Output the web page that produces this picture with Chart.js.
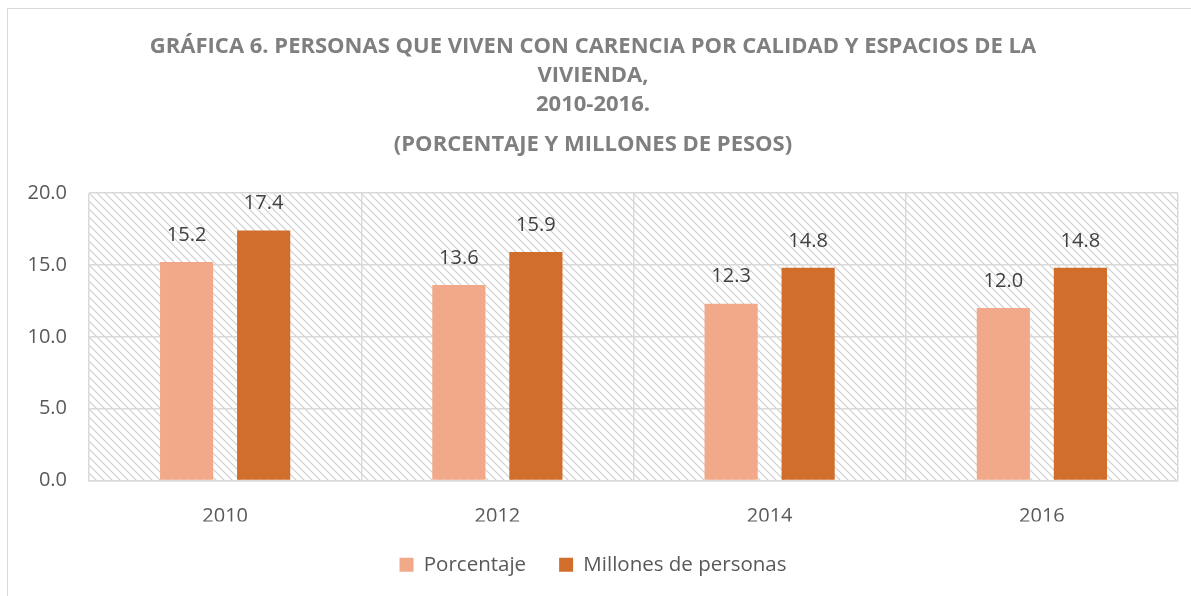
<!DOCTYPE html>
<html>
<head>
<meta charset="utf-8">
<script src="https://cdn.jsdelivr.net/npm/chart.js@4.4.0/dist/chart.umd.min.js"></script>
<style>
  html, body { margin: 0; padding: 0; background: #fff; }
  #wrap { width: 1191px; height: 596px; position: relative; }
</style>
</head>
<body>
<div id="wrap"><canvas id="myChart" width="1191" height="596"></canvas></div>
<script>
var years = ['2010', '2012', '2014', '2016'];
var porcentaje = [15.2, 13.6, 12.3, 12.0];
var millones = [17.4, 15.9, 14.8, 14.8];
var seriesNames = ['Porcentaje', 'Millones de personas'];
var titleLines = [
  'GRÁFICA 6. PERSONAS QUE VIVEN CON CARENCIA POR CALIDAD Y ESPACIOS DE LA',
  'VIVIENDA,',
  '2010-2016.'
];
var subtitleText = '(PORCENTAJE Y MILLONES DE PESOS)';

var FONT = "'Open Sans', 'Liberation Sans', sans-serif";

// hatch pattern for the plot area
function makeHatch() {
  var c = document.createElement('canvas');
  c.width = 8; c.height = 8;
  var g = c.getContext('2d');
  g.strokeStyle = '#cfcfcf';
  g.lineWidth = 1.2;
  g.beginPath();
  g.moveTo(-1, -1); g.lineTo(9, 9);
  g.moveTo(-1, 7); g.lineTo(1, 9);
  g.moveTo(7, -1); g.lineTo(9, 1);
  g.stroke();
  return g.createPattern(c, 'repeat');
}

var background = {
  id: 'background',
  beforeDraw: function(chart) {
    var ctx = chart.ctx, a = chart.chartArea;
    ctx.save();
    ctx.fillStyle = '#fff';
    ctx.fillRect(0, 0, chart.width, chart.height);
    ctx.strokeStyle = '#d9d9d9';
    ctx.lineWidth = 1;
    ctx.strokeRect(7.5, 8.5, chart.width + 10, chart.height + 10);
    ctx.fillStyle = makeHatch();
    ctx.fillRect(a.left, a.top, a.right - a.left, a.bottom - a.top);
    ctx.restore();
  }
};

// values above the bars
var valueLabels = {
  id: 'valueLabels',
  afterDatasetsDraw: function(chart) {
    var ctx = chart.ctx;
    ctx.save();
    ctx.font = '20px ' + FONT;
    ctx.fillStyle = '#404040';
    ctx.textAlign = 'center';
    ctx.textBaseline = 'middle';
    chart.data.datasets.forEach(function(ds, i) {
      chart.getDatasetMeta(i).data.forEach(function(bar, j) {
        ctx.fillText(ds.data[j].toFixed(1), bar.x, bar.y - 27);
      });
    });
    ctx.restore();
  }
};

new Chart(document.getElementById('myChart').getContext('2d'), {
  type: 'bar',
  data: {
    labels: years,
    datasets: [
      { label: seriesNames[0], data: porcentaje, backgroundColor: '#f1a98a' },
      { label: seriesNames[1], data: millones, backgroundColor: '#d26e2b' }
    ]
  },
  options: {
    responsive: false,
    animation: false,
    devicePixelRatio: 1,
    categoryPercentage: 0.566,
    barPercentage: 0.69,
    layout: { padding: { left: 8, right: 13, top: 10, bottom: 11 } },
    plugins: {
      title: {
        display: true,
        text: titleLines,
        color: '#7f7f7f',
        font: { family: FONT, size: 22, weight: 'bold', lineHeight: 1.32 },
        padding: { top: 22, bottom: 0 }
      },
      subtitle: {
        display: true,
        text: subtitleText,
        color: '#7f7f7f',
        font: { family: FONT, size: 22, weight: 'bold', lineHeight: 1.32 },
        padding: { top: 11, bottom: 34 }
      },
      legend: {
        position: 'bottom',
        labels: {
          color: '#595959',
          font: { family: FONT, size: 20.5 },
          boxWidth: 14, boxHeight: 14,
          padding: 33
        }
      },
      tooltip: { enabled: false }
    },
    scales: {
      x: {
        grid: { color: '#d9d9d9', lineWidth: 1.5, drawTicks: false },
        border: { color: '#d9d9d9', width: 1.5 },
        ticks: { color: '#595959', font: { family: FONT, size: 20 }, padding: 24 },
        afterFit: function(scale) { scale.height = 41; }
      },
      y: {
        min: 0, max: 20,
        ticks: {
          stepSize: 5,
          color: '#595959',
          font: { family: FONT, size: 20 },
          padding: 22,
          callback: function(v) { return v.toFixed(1); }
        },
        grid: { color: '#d9d9d9', lineWidth: 1.5, drawTicks: false },
        border: { display: false },
        afterFit: function(scale) { scale.width = 81; }
      }
    }
  },
  plugins: [background, valueLabels]
});
</script>
</body>
</html>
